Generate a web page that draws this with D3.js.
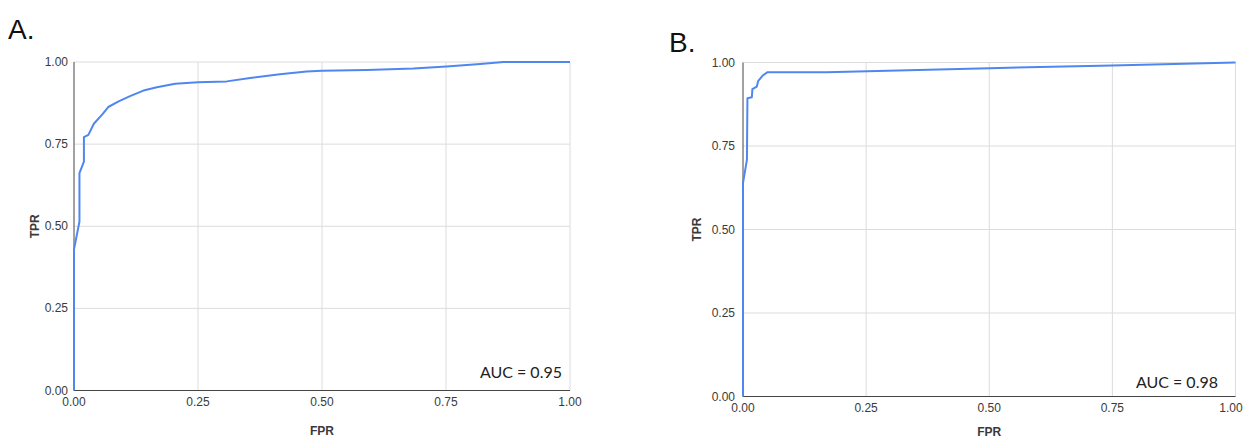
<!DOCTYPE html>
<html>
<head>
<meta charset="utf-8">
<style>
  body { margin: 0; background: #fff; }
  #roc text { font-family: 'Liberation Sans', Arial, sans-serif; fill: #3a3a3a; }
  #roc .auc { font-family: Lato, sans-serif; fill: #222; }
</style>
</head>
<body>
<div id="roc"></div>
<script src="https://d3js.org/d3.v7.min.js"></script>
<script>
  // ROC curve A
  var fprA = [0, 0, 0.011, 0.011, 0.02, 0.02, 0.029, 0.04, 0.058, 0.069, 0.09, 0.113, 0.14, 0.167, 0.204,
    0.25, 0.308, 0.355, 0.415, 0.469, 0.5, 0.59, 0.684, 0.751, 0.819, 0.866, 1.0];
  var tprA = [0, 0.43, 0.514, 0.662, 0.697, 0.771, 0.778, 0.812, 0.842, 0.863, 0.88, 0.896, 0.913, 0.923, 0.934,
    0.938, 0.941, 0.951, 0.963, 0.971, 0.973, 0.976, 0.98, 0.986, 0.994, 1.0, 1.0];
  // ROC curve B
  var fprB = [0, 0, 0.008, 0.009, 0.018, 0.019, 0.028, 0.031, 0.04, 0.05, 0.17, 0.5, 0.75, 1.0];
  var tprB = [0, 0.639, 0.709, 0.893, 0.896, 0.92, 0.928, 0.945, 0.961, 0.971, 0.971, 0.983, 0.991, 1.0];
  var ticks = [0, 0.25, 0.5, 0.75, 1];
  var aucLabels = ["AUC = 0.95", "AUC = 0.98"];
  var panelLetters = ["A.", "B."];

  var width = 1245, height = 439;
  var svg = d3.select("#roc").append("svg").attr("width", width).attr("height", height);

  var panels = [
    { letter: panelLetters[0], fpr: fprA, tpr: tprA, auc: aucLabels[0],
      x0: 74, x1: 570, y0: 390.5, y1: 62, letterX: 8, letterY: 39, yLabelX: 35,
      yTickGap: 6, xTickY: 406, aucX: 562, aucY: 378, fprY: 435 },
    { letter: panelLetters[1], fpr: fprB, tpr: tprB, auc: aucLabels[1],
      x0: 743, x1: 1235.5, y0: 396.5, y1: 62.5, letterX: 669, letterY: 52, yLabelX: 697,
      yTickGap: 8, xTickY: 412, aucX: 1218, aucY: 388, fprY: 436 }
  ];

  panels.forEach(function(p) {
    var x = d3.scaleLinear().domain([0, 1]).range([p.x0, p.x1]);
    var y = d3.scaleLinear().domain([0, 1]).range([p.y0, p.y1]);
    var g = svg.append("g");

    // gridlines
    g.selectAll(".vgrid").data(ticks.slice(1)).enter().append("line")
      .attr("x1", function(d) { return x(d); }).attr("x2", function(d) { return x(d); })
      .attr("y1", p.y0).attr("y2", p.y1)
      .attr("stroke", "#dcdcdc").attr("stroke-width", 1);
    g.selectAll(".hgrid").data(ticks.slice(1)).enter().append("line")
      .attr("x1", p.x0).attr("x2", p.x1)
      .attr("y1", function(d) { return y(d); }).attr("y2", function(d) { return y(d); })
      .attr("stroke", "#dcdcdc").attr("stroke-width", 1);

    // axis lines
    g.append("line").attr("x1", p.x0).attr("x2", p.x1).attr("y1", p.y0).attr("y2", p.y0)
      .attr("stroke", "#444").attr("stroke-width", 1);
    g.append("line").attr("x1", p.x0).attr("x2", p.x0).attr("y1", p.y0).attr("y2", p.y1)
      .attr("stroke", "#444").attr("stroke-width", 1);

    // tick labels
    g.selectAll(".ytick").data(ticks).enter().append("text")
      .attr("x", p.x0 - p.yTickGap).attr("y", function(d) { return y(d) + 4; })
      .attr("text-anchor", "end").style("font-size", "12px")
      .text(function(d) { return d3.format(".2f")(d); });
    g.selectAll(".xtick").data(ticks).enter().append("text")
      .attr("x", function(d) { return Math.min(x(d), width - 14); }).attr("y", p.xTickY)
      .attr("text-anchor", "middle").style("font-size", "12px")
      .text(function(d) { return d3.format(".2f")(d); });

    // axis titles
    g.append("text").attr("x", (p.x0 + p.x1) / 2).attr("y", p.fprY)
      .attr("text-anchor", "middle").style("font-size", "12px").style("font-weight", "bold")
      .text("FPR");
    g.append("text")
      .attr("transform", "translate(" + (p.yLabelX + 4) + "," + ((p.y0 + p.y1) / 2) + ") rotate(-90)")
      .attr("text-anchor", "middle").style("font-size", "12px").style("font-weight", "bold")
      .text("TPR");

    // curve
    var pts = p.fpr.map(function(d, i) { return [d, p.tpr[i]]; });
    var line = d3.line().x(function(d) { return x(d[0]); }).y(function(d) { return y(d[1]); });
    g.append("path").datum(pts).attr("d", line)
      .attr("fill", "none").attr("stroke", "#4f87f0").attr("stroke-width", 2)
      .attr("stroke-linejoin", "round");

    // AUC label
    g.append("text").attr("class", "auc").attr("x", p.aucX).attr("y", p.aucY)
      .attr("text-anchor", "end").style("font-size", "16px").text(p.auc);

    // panel letter
    g.append("text").attr("x", p.letterX).attr("y", p.letterY)
      .style("font-size", "28px").style("fill", "#111").text(p.letter);
  });
</script>
</body>
</html>
